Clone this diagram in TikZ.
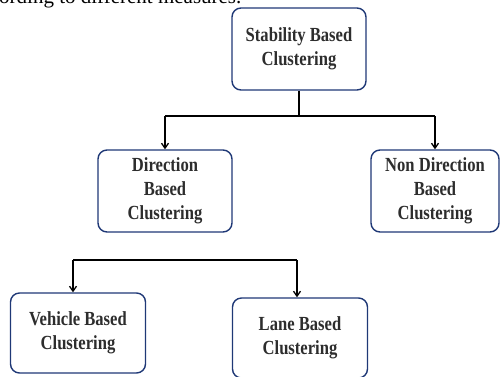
\documentclass[tikz,border=0pt]{standalone}
\usepackage{fontspec}
\setmainfont{Liberation Serif}
\newfontfamily\boxfont[FakeStretch=0.83]{Liberation Serif}
\usepackage{tikz}
\usetikzlibrary{arrows.meta}
\usetikzlibrary{calc,positioning}
\definecolor{boxblue}{RGB}{31,56,118}
\definecolor{boxtext}{RGB}{45,45,45}

\begin{document}
\begin{tikzpicture}[x=1pt,y=-1pt]
                \tikzstyle{every node}=[font=\boxfont\bfseries\fontsize{20}{24}\selectfont,text=boxtext]
                \tikzstyle{cluster}=[draw=boxblue,line width=1.4pt,rounded corners=9pt,align=center,inner sep=2pt]
                \tikzstyle{link}=[line width=1.3pt]
                \tikzstyle{linkarrow}=[line width=1.3pt,-{Straight Barb[length=5pt,width=7pt]}]
                \useasboundingbox (0,0) rectangle (500,376);
                \clip (0,0) rectangle (500,376);
                % leftover line of text above the figure
                \node (caption) [anchor=base west,inner sep=0pt,font=\fontsize{21}{21}\selectfont,text=black] at (-1,3.5) {ording to different measures.};
                % boxes
                \node (stab) [cluster,minimum width=134pt,minimum height=82pt] at (299,49) {Stability Based\\Clustering};
                \node (dir) [cluster,minimum width=134pt,minimum height=82pt] at (165,191) {Direction\\Based\\Clustering};
                \node (nondir) [cluster,minimum width=128pt,minimum height=82pt] at (435,191) {Non Direction\\Based\\Clustering};
                \node (veh) [cluster,minimum width=135pt,minimum height=80pt] at (78,333) {Vehicle Based\\Clustering};
                \node (lane) [cluster,minimum width=135pt,minimum height=80pt] at (300,338) {Lane Based\\Clustering};
                % first level
                \coordinate (topfork) at (299,116);
                \draw [link] (stab.south) -- (topfork);
                \draw [link] (dir.north |- topfork) -- (nondir.north |- topfork);
                \draw [linkarrow] (dir.north |- topfork) -- (dir.north);
                \draw [linkarrow] (nondir.north |- topfork) -- (nondir.north);
                % second level
                \coordinate (lowleft) at (73,260);
                \coordinate (lowright) at (297,260);
                \draw [link] (lowleft) -- (lowright);
                \draw [linkarrow] (lowleft) -- (lowleft |- veh.north);
                \draw [linkarrow] (lowright) -- (lowright |- lane.north);
            \end{tikzpicture}
\end{document}
